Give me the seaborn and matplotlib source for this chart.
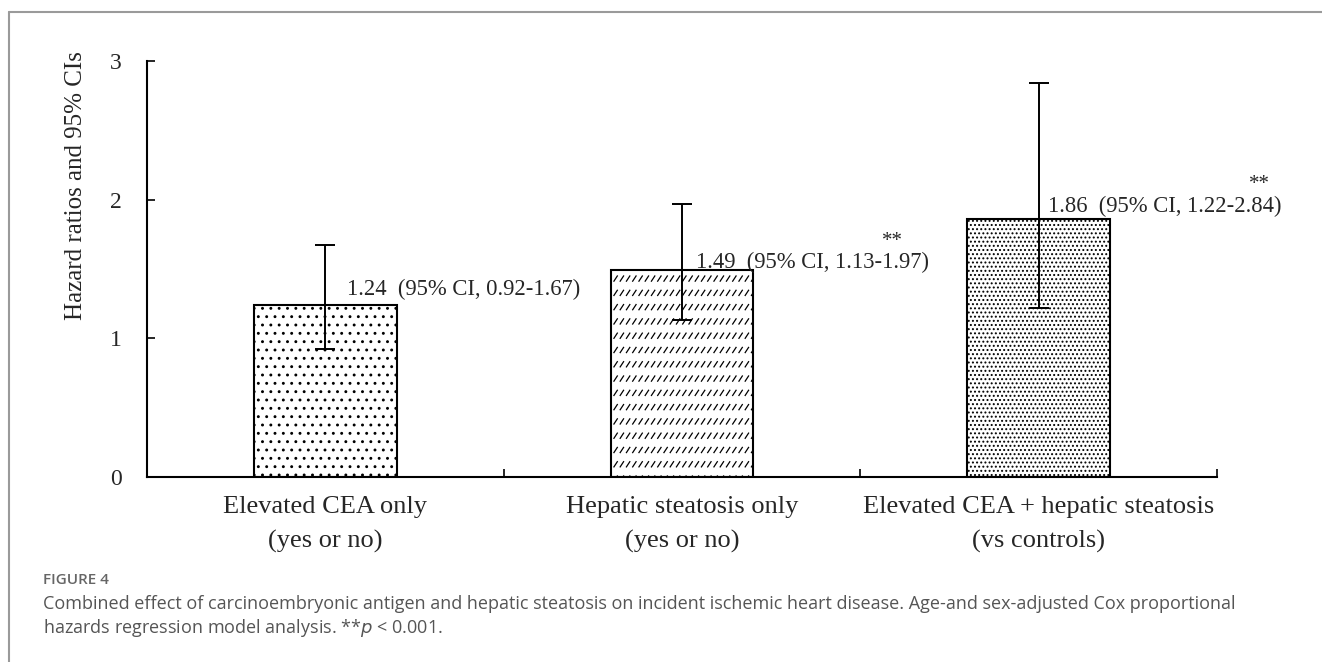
import warnings
import matplotlib
matplotlib.use("Agg")
import matplotlib.pyplot as plt
import matplotlib.hatch as mhatch
from matplotlib.path import Path
import seaborn as sns
import numpy as np
from matplotlib.lines import Line2D

warnings.filterwarnings("ignore")

# ---- data ----
categories = ["Elevated CEA only\n(yes or no)",
              "Hepatic steatosis only\n(yes or no)",
              "Elevated CEA + hepatic steatosis\n(vs controls)"]
hazard_ratios = [1.24, 1.49, 1.86]
ci_low = [0.92, 1.13, 1.22]
ci_high = [1.67, 1.97, 2.84]
significance = ["", "**", "**"]
y_ticks = [0, 1, 2, 3]
y_label = "Hazard ratios and 95% CIs"
fig_label = "FIGURE 4"
caption_lines = [
    "Combined effect of carcinoembryonic antigen and hepatic steatosis on incident ischemic heart disease. Age-and sex-adjusted Cox proportional",
    "hazards regression model analysis. **$p$ < 0.001.",
]


# ---- custom hatch: rows of short slanted dashes ----
class DashRows(mhatch.HatchPatternBase):
    def __init__(self, hatch, density):
        n = hatch.count("z")
        self.num_rows = 7 if n else 0
        self.num_cols = 16 if n else 0
        self.num_lines = self.num_rows * self.num_cols
        self.num_vertices = self.num_lines * 2

    def set_vertices_and_codes(self, vertices, codes):
        k = 0
        for i in range(self.num_rows):
            yc = (i + 0.5) / self.num_rows
            for j in range(self.num_cols):
                xc = (j + 0.5) / self.num_cols
                vertices[k] = (xc - 0.017, yc - 0.026)
                vertices[k + 1] = (xc + 0.017, yc + 0.026)
                codes[k] = Path.MOVETO
                codes[k + 1] = Path.LINETO
                k += 2


mhatch._hatch_types.append(DashRows)

# ---- style ----
sns.set_style("ticks")
plt.rcParams["font.family"] = ["Liberation Serif", "DejaVu Serif"]
plt.rcParams["hatch.linewidth"] = 0.9
plt.rcParams["hatch.color"] = "black"

fig = plt.figure(figsize=(13.22, 6.62), dpi=100)
ax = fig.add_axes([0.1112, 0.2795, 0.8094, 0.6284])

sns.barplot(x=list(range(len(categories))), y=hazard_ratios, ax=ax,
            color="white", edgecolor="black", linewidth=1.5,
            width=0.4, errorbar=None, native_scale=True, saturation=1)

hatches = ["..", "z", "...."]
for patch, h in zip(ax.patches, hatches):
    patch.set_hatch(h)
    patch.set_facecolor("white")

hr = np.array(hazard_ratios)
lo = np.array(ci_low)
hi = np.array(ci_high)
xs = np.arange(len(categories))
ax.errorbar(xs, hr, yerr=[hr - lo, hi - hr], fmt="none", ecolor="black",
            elinewidth=1.4, capsize=7, capthick=1.4, zorder=5)

# value annotations
label_dx = [0.06, 0.04, 0.025]
label_dy = [0.11, 0.06, 0.09]
for i, (v, l, h) in enumerate(zip(hazard_ratios, ci_low, ci_high)):
    ax.text(i + label_dx[i], v + label_dy[i],
            f"{v:.2f}  (95% CI, {l:.2f}-{h:.2f})",
            ha="left", va="center", fontsize=16.3, zorder=6)
star_xy = [(0, 0), (1.59, 1.70), (2.62, 2.11)]
for i, s in enumerate(significance):
    if s:
        ax.text(star_xy[i][0], star_xy[i][1], s, ha="center", va="center",
                fontsize=15)

ax.set_xlim(-0.5, 2.5)
ax.set_ylim(0, 3)
ax.set_yticks(y_ticks)
ax.set_yticklabels([str(t) for t in y_ticks], fontsize=17)
ax.set_xticks([0.5, 1.5, 2.5])
ax.set_xticklabels([])
ax.set_xticks(xs, minor=True)
ax.set_xticklabels(categories, minor=True, fontsize=19, linespacing=1.65)
ax.tick_params(axis="x", which="major", direction="in", length=6, width=1.4)
ax.tick_params(axis="x", which="minor", length=0, pad=14)
ax.tick_params(axis="y", direction="in", length=6, width=1.4, pad=18)
for sp in ["top", "right"]:
    ax.spines[sp].set_visible(False)
for sp in ["left", "bottom"]:
    ax.spines[sp].set_linewidth(1.5)
    ax.spines[sp].set_color("black")
ax.set_xlabel("")
ax.set_ylabel("")

fig.text(0.0575, 0.72, y_label, rotation=90, ha="center", va="center",
         fontsize=18)

# frame
fig.add_artist(Line2D([9 / 1322, 1.0], [1 - 12 / 662, 1 - 12 / 662],
                      transform=fig.transFigure, color="#9a9a9a", lw=1.5))
fig.add_artist(Line2D([9 / 1322, 9 / 1322], [0.0, 1 - 12 / 662],
                      transform=fig.transFigure, color="#9a9a9a", lw=1.5))

# caption
cap_font = ["Open Sans", "DejaVu Sans"]
fig.text(43 / 1322, 1 - 580 / 662, fig_label, ha="left", va="center",
         fontsize=11, color="#666666", family=cap_font, fontweight="semibold")
fig.text(43 / 1322, 1 - 604 / 662, caption_lines[0], ha="left", va="center",
         fontsize=13, color="#555555", family=cap_font)
fig.text(43 / 1322, 1 - 628 / 662, caption_lines[1], ha="left", va="center",
         fontsize=13, color="#555555", family=cap_font)

fig.savefig("out.png", dpi=100)
